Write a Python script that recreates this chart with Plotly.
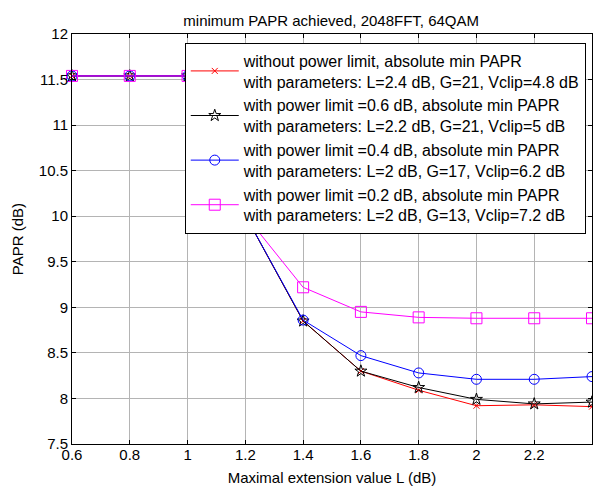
import plotly.graph_objects as go

L_values = [0.6, 0.8, 1.0, 1.2, 1.4, 1.6, 1.8, 2.0, 2.2, 2.4]

papr_no_limit = [11.54, 11.54, 11.54, 10.01, 8.85, 8.30, 8.09, 7.92, 7.93, 7.91]
papr_limit_06 = [11.54, 11.54, 11.54, 10.01, 8.85, 8.30, 8.12, 7.99, 7.94, 7.96]
papr_limit_04 = [11.54, 11.54, 11.54, 10.01, 8.86, 8.47, 8.28, 8.21, 8.21, 8.24]
papr_limit_02 = [11.54, 11.54, 11.54, 10.01, 9.22, 8.95, 8.89, 8.88, 8.88, 8.88]

series_names = [
    "without power limit, absolute min PAPR<br>with parameters: L=2.4 dB, G=21, Vclip=4.8 dB",
    "with power limit =0.6 dB, absolute min PAPR<br>with parameters: L=2.2 dB, G=21, Vclip=5 dB",
    "with power limit =0.4 dB, absolute min PAPR<br>with parameters: L=2 dB, G=17, Vclip=6.2 dB",
    "with power limit =0.2 dB, absolute min PAPR<br>with parameters: L=2 dB, G=13, Vclip=7.2 dB",
]

x_ticks = [0.6, 0.8, 1.0, 1.2, 1.4, 1.6, 1.8, 2.0, 2.2]
x_labels = ["0.6", "0.8", "1", "1.2", "1.4", "1.6", "1.8", "2", "2.2"]
y_ticks = [7.5, 8, 8.5, 9, 9.5, 10, 10.5, 11, 11.5, 12]
y_labels = ["7.5", "8", "8.5", "9", "9.5", "10", "10.5", "11", "11.5", "12"]

styles = [
    dict(color="#ff0000", symbol="x-thin", size=6),
    dict(color="#000000", symbol="star-open", size=9),
    dict(color="#0000ff", symbol="circle-open", size=10),
    dict(color="#ff00ff", symbol="square-open", size=11),
]

fig = go.Figure()
for ys, name, st in zip([papr_no_limit, papr_limit_06, papr_limit_04, papr_limit_02], series_names, styles):
    fig.add_trace(go.Scatter(
        x=L_values, y=ys, name=name, mode="lines+markers", cliponaxis=False,
        line=dict(color=st["color"], width=1),
        marker=dict(symbol=st["symbol"], size=st["size"], color=st["color"],
                    line=dict(color=st["color"], width=1)),
    ))

axis_font = dict(family="Liberation Sans, Arial", size=15, color="black")

# page body has an 8px margin, so the figure is sized to fit inside it
fig.update_xaxes(range=[0.6, 2.4], tickvals=x_ticks, ticktext=x_labels, automargin=False,
                 showgrid=True, gridcolor="#b4b4b4", gridwidth=1,
                 showline=True, linecolor="black", linewidth=1, mirror="ticks",
                 ticks="inside", ticklen=4, tickcolor="black", zeroline=False,
                 tickfont=axis_font, ticklabelstandoff=-3,
                 title=dict(text="Maximal extension value L (dB)", font=axis_font, standoff=10))
fig.update_yaxes(range=[7.5, 12], tickvals=y_ticks, ticktext=y_labels, automargin=False,
                 showgrid=True, gridcolor="#b4b4b4", gridwidth=1,
                 showline=True, linecolor="black", linewidth=1, mirror="ticks",
                 ticks="inside", ticklen=4, tickcolor="black", zeroline=False,
                 tickfont=axis_font,
                 title=dict(text="PAPR (dB)", font=axis_font, standoff=11))

fig.update_layout(
    width=593, height=480,
    margin=dict(l=64, r=9, t=26, b=44),
    paper_bgcolor="white", plot_bgcolor="white",
    title=dict(text="minimum PAPR achieved, 2048FFT, 64QAM", x=0.545, xanchor="center",
               y=0.974, yanchor="middle",
               font=dict(family="Liberation Sans, Arial", size=15, color="black")),
    legend=dict(x=0.988, xanchor="right", y=0.979, yanchor="top",
                bgcolor="white", bordercolor="black", borderwidth=1,
                font=dict(family="Liberation Sans, Arial", size=16, color="black"),
                tracegroupgap=0, itemwidth=48),
    showlegend=True,
)

fig.write_html("out.html")
